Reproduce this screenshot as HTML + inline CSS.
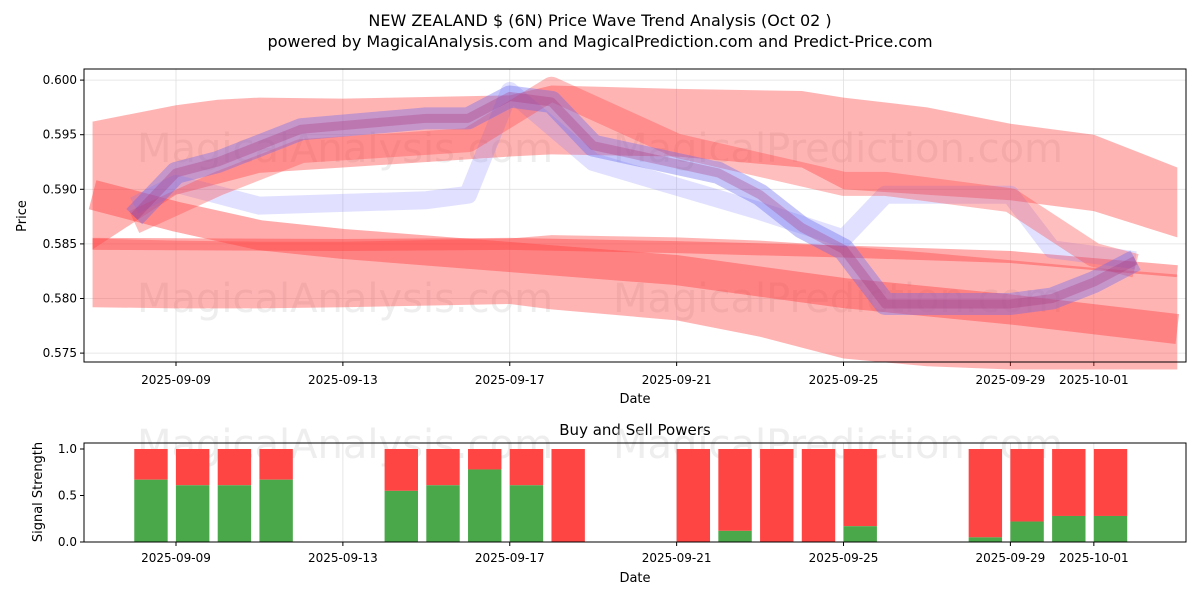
<!DOCTYPE html>
<html><head><meta charset="utf-8"><style>
body{margin:0;background:#fff;font-family:"Liberation Sans","DejaVu Sans",sans-serif}
svg text{font-family:"DejaVu Sans","Liberation Sans",sans-serif}
</style></head><body>
<svg id="c" width="1200" height="600" xmlns="http://www.w3.org/2000/svg">
<text x="600" y="26" text-anchor="middle" font-size="16">NEW ZEALAND $ (6N) Price Wave Trend Analysis (Oct 02 )</text>
<text x="600" y="47" text-anchor="middle" font-size="16">powered by MagicalAnalysis.com and MagicalPrediction.com and Predict-Price.com</text>
<g id="main"></g>
<g id="sub"></g>
</svg>
<script>
// day offsets: 0 = 2025-09-09
const xTickLabels=["2025-09-09","2025-09-13","2025-09-17","2025-09-21","2025-09-25","2025-09-29","2025-10-01"];
const xTickDays=[0,4,8,12,16,20,22];
const yTicks=[0.575,0.580,0.585,0.590,0.595,0.600];
const bandUpperDays=[-2,0,1,2,4,8,9,12,15,16,18,20,22,24];
const bandUpperTop=[0.5962,0.5977,0.5982,0.5984,0.5983,0.5986,0.5995,0.5992,0.599,0.5984,0.5975,0.596,0.595,0.592];
const bandUpperBot=[0.5845,0.5895,0.5905,0.5915,0.592,0.593,0.5932,0.593,0.592,0.590,0.5895,0.589,0.588,0.5856];
const bandLowDays=[-2,0,2,4,8,9,12,14,16,18,20,22,24];
const bandLowTop=[0.5855,0.5853,0.5852,0.5852,0.5855,0.5858,0.5856,0.5853,0.5848,0.5842,0.5835,0.5828,0.5822];
const bandLowBot=[0.5792,0.5791,0.5791,0.5792,0.5795,0.5790,0.5780,0.5765,0.5745,0.5738,0.5735,0.5735,0.5735];
const descDays=[-2,0,2,4,8,12,16,20,24];
const descVals=[0.5895,0.5875,0.5858,0.5850,0.5838,0.5826,0.5805,0.5790,0.5772];
const flatDays=[-2,4,8,12,16,20,24];
const flatVals=[0.5850,0.5849,0.5850,0.5847,0.5843,0.5838,0.5825];
const waveDays=[-1,0,1,2,3,6,7,8,9,10,13,14,15,16,17,20,21,22,23];
const waveBlue=[0.5875,0.5915,0.5925,0.594,0.5955,0.5965,0.5965,0.5985,0.598,0.594,0.5915,0.5895,0.5865,0.5845,0.5795,0.5795,0.580,0.5815,0.5835];
const waveDays2=[-1,0,2,6,7,8,10,14,16,17,20,21,23];
const waveBlue2=[0.5885,0.5905,0.5885,0.589,0.5895,0.599,0.5925,0.588,0.5855,0.5895,0.5895,0.5845,0.5835];
const waveDays3=[-1,1,3,7,9,12,16,17,20,22,23];
const waveRed=[0.587,0.5905,0.5935,0.5945,0.5992,0.594,0.5905,0.5905,0.589,0.584,0.583];
const barDays=[-1,0,1,2,5,6,7,8,9,12,13,14,15,16,19,20,21,22];
const buyVals=[0.67,0.61,0.61,0.67,0.55,0.61,0.78,0.61,0,0,0.12,0,0,0.17,0.05,0.22,0.28,0.28];

const NS="http://www.w3.org/2000/svg";
function mk(p,t,a){const e=document.createElementNS(NS,t);for(const k in a)e.setAttribute(k,a[k]);p.appendChild(e);return e;}
const L=84,R=1186,T=69,B=362;
const X=d=>176+d*41.72;
const Y=v=>298.5+(0.580-v)*10920;
const main=document.getElementById('main'),sub=document.getElementById('sub');
xTickDays.forEach((d,i)=>{
  let g=mk(main,'line',{x1:X(d),x2:X(d),y1:T,y2:B,stroke:'#e0e0e0','stroke-width':0.8});
  
  let t=mk(main,'text',{x:X(d),y:384,'text-anchor':'middle','font-size':12});t.textContent=xTickLabels[i];
  
  mk(main,'line',{x1:X(d),x2:X(d),y1:B,y2:B+4,stroke:'#000'});
  let g2=mk(sub,'line',{x1:X(d),x2:X(d),y1:443,y2:542,stroke:'#e0e0e0','stroke-width':0.8});
  
  let t2=mk(sub,'text',{x:X(d),y:562,'text-anchor':'middle','font-size':12});t2.textContent=xTickLabels[i];
  
  mk(sub,'line',{x1:X(d),x2:X(d),y1:542,y2:546,stroke:'#000'});
});
yTicks.forEach(v=>{
  let g=mk(main,'line',{x1:L,x2:R,y1:Y(v),y2:Y(v),stroke:'#e0e0e0','stroke-width':0.8});
  
  mk(main,'line',{x1:L-4,x2:L,y1:Y(v),y2:Y(v),stroke:'#000'});
  let t=mk(main,'text',{x:L-7,y:Y(v)+4,'text-anchor':'end','font-size':12});t.textContent=v.toFixed(3);
  
});
function wm(p,y,s){[['MagicalAnalysis.com',345],['MagicalPrediction.com',838]].forEach(a=>{let t=mk(p,'text',{x:a[1],y:y,'text-anchor':'middle','font-size':s,fill:'#ddd','fill-opacity':0.5});t.textContent=a[0];});}
wm(main,162,40);wm(main,312,40);
function band(days,top,bot,fill,op,name){
  let pts=days.map((d,i)=>X(d)+','+Y(top[i]));
  for(let i=days.length-1;i>=0;i--)pts.push(X(days[i])+','+Y(bot[i]));
  let e=mk(main,'polygon',{points:pts.join(' '),fill:fill,'fill-opacity':op});
  
}
function line(days,vals,col,w,op,name){
  let e=mk(main,'polyline',{points:days.map((d,i)=>X(d)+','+Y(vals[i])).join(' '),fill:'none',stroke:col,'stroke-width':w,'stroke-opacity':op,'stroke-linejoin':'round'});
  
}
band(bandUpperDays,bandUpperTop,bandUpperBot,'#ff4444',0.4,'upper-band');
band(bandLowDays,bandLowTop,bandLowBot,'#ff4444',0.4,'lower-band');
line(descDays,descVals,'#ff4444',30,0.45,'descending-band');
line(flatDays,flatVals,'#ff4444',12,0.45,'flat-band');
line(waveDays2,waveBlue2,'#7777ff',18,0.22,'wave-blue-light');
line(waveDays3,waveRed,'#ff4444',24,0.35,'wave-red');
line(waveDays,waveBlue,'#6666ee',22,0.38,'wave-blue');
line(waveDays,waveBlue,'#aa3377',9,0.3,'wave-core');
mk(main,'rect',{x:L,y:T,width:R-L,height:B-T,fill:'none',stroke:'#000','stroke-width':1});
let xl=mk(main,'text',{x:635,y:403,'text-anchor':'middle','font-size':13});xl.textContent='Date';
let yl=mk(main,'text',{x:26,y:216,'text-anchor':'middle','font-size':13,transform:'rotate(-90 26 216)'});yl.textContent='Price';
const SY=v=>542-v*93;
let st=mk(sub,'text',{x:635,y:435,'text-anchor':'middle','font-size':15});st.textContent='Buy and Sell Powers';
[0,0.5,1].forEach(v=>{mk(sub,'line',{x1:L-4,x2:L,y1:SY(v),y2:SY(v),stroke:'#000'});let t=mk(sub,'text',{x:L-7,y:SY(v)+4,'text-anchor':'end','font-size':12});t.textContent=v.toFixed(1);});
wm(sub,458,40);
barDays.forEach((d,i)=>{
  const cx=X(d+0.4),w=33.4,b=buyVals[i];
  let r=mk(sub,'rect',{x:cx-w/2,y:SY(1),width:w,height:SY(b)-SY(1),fill:'#ff4444'});
  
  let g=mk(sub,'rect',{x:cx-w/2,y:SY(b),width:w,height:SY(0)-SY(b),fill:'#4aa84a'});
  
});
mk(sub,'rect',{x:L,y:443,width:R-L,height:99,fill:'none',stroke:'#000','stroke-width':1});
let sx=mk(sub,'text',{x:635,y:582,'text-anchor':'middle','font-size':13});sx.textContent='Date';
let sy=mk(sub,'text',{x:42,y:492,'text-anchor':'middle','font-size':13,transform:'rotate(-90 42 492)'});sy.textContent='Signal Strength';
</script>
</body></html>
